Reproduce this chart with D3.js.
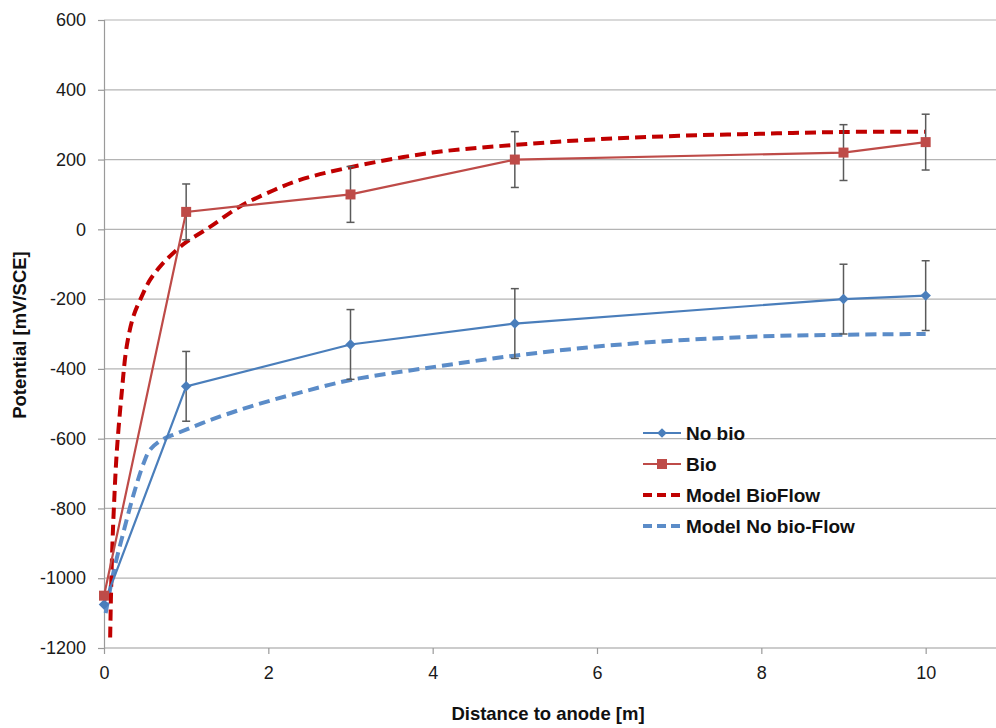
<!DOCTYPE html>
<html>
<head>
<meta charset="utf-8">
<script src="https://cdn.jsdelivr.net/npm/d3@7"></script>
<style>
  html, body { margin: 0; padding: 0; background: #fff; }
  svg { display: block; font-family: "Liberation Sans", Arial, sans-serif; }
</style>
</head>
<body>
<svg id="chart" width="996" height="728"></svg>
<script>
// ---------- data ----------
const distances = [0, 1, 3, 5, 9, 10];
const noBio = [-1075, -450, -330, -270, -200, -190];
const noBioErr = [null, 100, 100, 100, 100, 100];
const bio = [-1050, 50, 100, 200, 220, 250];
const bioErr = [null, 80, 80, 80, 80, 80];

const modelBioX = [0.075, 0.085, 0.1, 0.12, 0.155, 0.215, 0.276, 0.357, 0.458, 0.56, 0.70, 0.885, 1.0, 1.29, 1.65, 1.98, 2.35, 3, 4, 5, 6, 7, 8, 9, 10];
const modelBioY = [-1170, -1050, -920, -800, -640, -470, -336, -250, -193, -145, -102, -59, -37, 7, 65, 103, 139, 178, 220, 242, 258, 268, 274, 279, 280];

const modelNoBioX = [0.02, 0.12, 0.24, 0.36, 0.48, 0.56, 0.7, 0.885, 1.29, 1.78, 2.35, 3, 4, 5, 6, 7, 8, 9, 10];
const modelNoBioY = [-1100, -978, -865, -760, -672, -632, -604, -585, -547, -508, -470, -432, -395, -362, -336, -318, -307, -302, -300];

const xTicks = [0, 2, 4, 6, 8, 10];
const yTicks = [-1200, -1000, -800, -600, -400, -200, 0, 200, 400, 600];

const legendLabels = ["No bio", "Bio", "Model BioFlow", "Model No bio-Flow"];

// ---------- styles ----------
const C_NOBIO = "#4a7ebb";
const C_BIO = "#be4b48";
const C_MBIO = "#c00000";
const C_MNOBIO = "#5b8cc8";
const C_GRID = "#b4b4b4";
const C_AXIS = "#9a9a9a";
const C_ERR = "#5a5a5a";

const svg = d3.select("#chart");
const x = d3.scaleLinear().domain([0, 12]).range([104, 1090]);
const y = d3.scaleLinear().domain([-1200, 600]).range([648, 20]);

// gridlines
svg.append("g").selectAll("line").data(yTicks.filter(d => d !== -1200)).join("line")
  .attr("x1", x(0)).attr("x2", 996)
  .attr("y1", d => y(d)).attr("y2", d => y(d))
  .attr("stroke", C_GRID).attr("stroke-width", 1.2);

// y axis
const yAxis = svg.append("g").attr("transform", `translate(${x(0)},0)`)
  .call(d3.axisLeft(y).tickValues(yTicks).tickSize(6).tickPadding(12).tickFormat(d3.format("d")));
yAxis.select(".domain").attr("stroke", C_AXIS).attr("stroke-width", 1.2);
yAxis.selectAll(".tick line").attr("stroke", C_AXIS).attr("stroke-width", 1.2);
yAxis.selectAll(".tick text").attr("font-size", 18).attr("fill", "#1a1a1a")
  .attr("font-family", "Liberation Sans, Arial, sans-serif").text(d => d < 0 ? "-" + Math.abs(d) : d);

// x axis
const xAxis = svg.append("g").attr("transform", `translate(0,${y(-1200)})`)
  .call(d3.axisBottom(x).tickValues(xTicks).tickSize(6).tickPadding(12).tickSizeOuter(0));
xAxis.select(".domain").attr("stroke", C_AXIS).attr("stroke-width", 1.2).attr("d", `M${x(0)},0H996`);
xAxis.selectAll(".tick line").attr("stroke", C_AXIS).attr("stroke-width", 1.2);
xAxis.selectAll(".tick text").attr("font-size", 18).attr("fill", "#1a1a1a")
  .attr("font-family", "Liberation Sans, Arial, sans-serif");

// axis titles
svg.append("text").attr("x", 548).attr("y", 720).attr("text-anchor", "middle")
  .attr("font-size", 18.5).attr("font-weight", "bold").attr("fill", "#111")
  .text("Distance to anode [m]");
svg.append("text").attr("transform", `translate(26,335) rotate(-90)`).attr("text-anchor", "middle")
  .attr("font-size", 18.5).attr("font-weight", "bold").attr("fill", "#111")
  .text("Potential [mV/SCE]");

// model curves
const curveLine = d3.line().x(d => x(d[0])).y(d => y(d[1])).curve(d3.curveCatmullRom.alpha(0.5));
svg.append("path").datum(d3.zip(modelNoBioX, modelNoBioY))
  .attr("d", curveLine).attr("fill", "none").attr("stroke", C_MNOBIO)
  .attr("stroke-width", 4).attr("stroke-dasharray", "11,6");
svg.append("path").datum(d3.zip(modelBioX, modelBioY))
  .attr("d", curveLine).attr("fill", "none").attr("stroke", C_MBIO)
  .attr("stroke-width", 4).attr("stroke-dasharray", "11,6");

// error bars
function errBars(vals, errs) {
  const g = svg.append("g").attr("stroke", C_ERR).attr("stroke-width", 1.5);
  distances.forEach((dx, i) => {
    if (errs[i] == null) return;
    const cx = x(dx), y1 = y(vals[i] + errs[i]), y2 = y(vals[i] - errs[i]);
    g.append("line").attr("x1", cx).attr("x2", cx).attr("y1", y1).attr("y2", y2);
    g.append("line").attr("x1", cx - 4).attr("x2", cx + 4).attr("y1", y1).attr("y2", y1);
    g.append("line").attr("x1", cx - 4).attr("x2", cx + 4).attr("y1", y2).attr("y2", y2);
  });
}
errBars(noBio, noBioErr);
errBars(bio, bioErr);

// measured series
const straight = d3.line().x(d => x(d[0])).y(d => y(d[1]));
svg.append("path").datum(d3.zip(distances, noBio)).attr("d", straight)
  .attr("fill", "none").attr("stroke", C_NOBIO).attr("stroke-width", 2.2);
svg.append("g").selectAll("path").data(d3.zip(distances, noBio)).join("path")
  .attr("transform", d => `translate(${x(d[0])},${y(d[1])})`)
  .attr("d", d3.symbol(d3.symbolDiamond2, 70)()).attr("fill", C_NOBIO);

svg.append("path").datum(d3.zip(distances, bio)).attr("d", straight)
  .attr("fill", "none").attr("stroke", C_BIO).attr("stroke-width", 2.2);
svg.append("g").selectAll("rect").data(d3.zip(distances, bio)).join("rect")
  .attr("x", d => x(d[0]) - 5).attr("y", d => y(d[1]) - 5)
  .attr("width", 10).attr("height", 10).attr("fill", C_BIO);

// legend
const lg = svg.append("g");
const legY = [433, 464, 495, 526];
const lx1 = 643, lx2 = 681;
lg.append("line").attr("x1", lx1).attr("x2", lx2).attr("y1", legY[0]).attr("y2", legY[0]).attr("stroke", C_NOBIO).attr("stroke-width", 2.2);
lg.append("path").attr("transform", `translate(${(lx1 + lx2) / 2},${legY[0]})`).attr("d", d3.symbol(d3.symbolDiamond2, 60)()).attr("fill", C_NOBIO);
lg.append("line").attr("x1", lx1).attr("x2", lx2).attr("y1", legY[1]).attr("y2", legY[1]).attr("stroke", C_BIO).attr("stroke-width", 2.2);
lg.append("rect").attr("x", (lx1 + lx2) / 2 - 5).attr("y", legY[1] - 5).attr("width", 10).attr("height", 10).attr("fill", C_BIO);
lg.append("line").attr("x1", lx1).attr("x2", lx2).attr("y1", legY[2]).attr("y2", legY[2]).attr("stroke", C_MBIO).attr("stroke-width", 4).attr("stroke-dasharray", "9,5");
lg.append("line").attr("x1", lx1).attr("x2", lx2).attr("y1", legY[3]).attr("y2", legY[3]).attr("stroke", C_MNOBIO).attr("stroke-width", 4).attr("stroke-dasharray", "9,5");
lg.selectAll("text").data(legendLabels).join("text")
  .attr("x", 686).attr("y", (d, i) => legY[i] + 6.5)
  .attr("font-size", 19).attr("font-weight", "bold").attr("fill", "#111")
  .text(d => d);
</script>
</body>
</html>
